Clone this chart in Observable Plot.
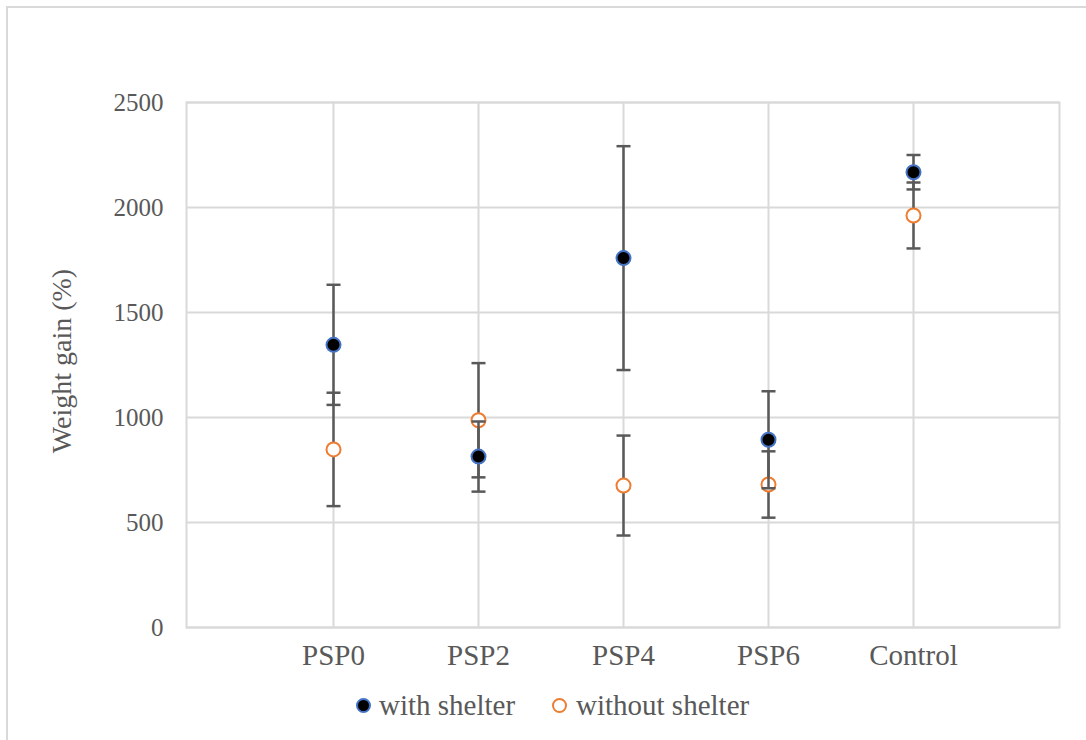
<!DOCTYPE html>
<html>
<head>
<meta charset="utf-8">
<script src="https://cdn.jsdelivr.net/npm/d3@7"></script>
<script src="https://cdn.jsdelivr.net/npm/@observablehq/plot@0.6"></script>
<style>
  body { margin: 0; background: #fff; }
  #wrap {
    position: relative; width: 1086px; height: 740px; overflow: hidden;
    font-family: "Liberation Serif", "Times New Roman", serif; color: #595959;
  }
  #border {
    position: absolute; left: 6px; top: 6px; width: 1300px; height: 1000px;
    border-top: 2px solid #d9d9d9; border-left: 2px solid #d9d9d9;
  }
  #chart { position: absolute; left: 0; top: 0; }
  .legend-item { position: absolute; top: 688px; font-size: 29px; line-height: 34px; white-space: nowrap; }
  .swatch { position: absolute; width: 11px; height: 11px; border-radius: 50%; box-sizing: content-box; }
</style>
</head>
<body>
<div id="wrap">
  <div id="border"></div>
  <div id="chart"></div>
  <div id="legend"></div>
</div>
<script>
// Weight gain by treatment, with and without shelter (mean ± SD)
const treatments = ["PSP0", "PSP2", "PSP4", "PSP6", "Control"];
const withShelter = [1346, 814, 1759, 894, 2168];
const withShelterSD = [286, 167, 533, 231, 82];
const withoutShelter = [848, 987, 676, 681, 1962];
const withoutShelterSD = [270, 272, 238, 158, 157];
const yTicks = [0, 500, 1000, 1500, 2000, 2500];
const seriesNames = ["with shelter", "without shelter"];
const yTitle = "Weight gain (%)";

const colors = { withFill: "#000000", withStroke: "#4472C4", withoutStroke: "#ED7D31", bar: "#595959", grid: "#d9d9d9" };

const rowsWith = treatments.map((t, i) => ({ t, v: withShelter[i], e: withShelterSD[i] }));
const rowsWithout = treatments.map((t, i) => ({ t, v: withoutShelter[i], e: withoutShelterSD[i] }));

// horizontal dash used as the error-bar cap; half-width equals the dot radius
const capSymbol = {
  draw(context, size) {
    const w = Math.sqrt(size / Math.PI);
    context.moveTo(-w, 0);
    context.lineTo(w, 0);
  }
};

// error bar: vertical whisker plus two caps
function errorBars(rows) {
  return [
    Plot.ruleX(rows, { x: "t", y1: d => d.v - d.e, y2: d => d.v + d.e, stroke: colors.bar, strokeWidth: 2.5 }),
    Plot.dot(rows, { x: "t", y: d => d.v + d.e, symbol: capSymbol, r: 7, fill: "none", stroke: colors.bar, strokeWidth: 2.5 }),
    Plot.dot(rows, { x: "t", y: d => d.v - d.e, symbol: capSymbol, r: 7, fill: "none", stroke: colors.bar, strokeWidth: 2.5 })
  ];
}

const chart = Plot.plot({
  width: 1086,
  height: 680,
  marginLeft: 186,
  marginRight: 27,
  marginTop: 102,
  marginBottom: 53,
  style: { fontFamily: "'Liberation Serif', 'Times New Roman', serif", color: "#595959", background: "transparent", overflow: "visible" },
  x: { type: "point", domain: treatments, padding: 1 },
  y: { domain: [0, 2500] },
  marks: [
    Plot.ruleY(yTicks, { y: d => d, stroke: colors.grid, strokeWidth: 2 }),
    Plot.ruleX(treatments, { x: d => d, stroke: colors.grid, strokeWidth: 2 }),
    Plot.frame({ stroke: colors.grid, strokeWidth: 2 }),
    Plot.axisY({ ticks: yTicks, tickFormat: "d", tickSize: 0, tickPadding: 23, fontSize: 25, label: null }),
    Plot.axisX({ tickSize: 0, tickPadding: 17, fontSize: 29, label: null }),
    Plot.text([yTitle], { text: d => d, frameAnchor: "left", textAnchor: "middle", rotate: -90, dx: -124, dy: -4, fontSize: 28, fill: "#595959" }),
    ...errorBars(rowsWithout),
    Plot.dot(rowsWithout, { x: "t", y: "v", r: 7, fill: "white", stroke: colors.withoutStroke, strokeWidth: 2 }),
    ...errorBars(rowsWith),
    Plot.dot(rowsWith, { x: "t", y: "v", r: 7, fill: colors.withFill, stroke: colors.withStroke, strokeWidth: 2 })
  ]
});
document.getElementById("chart").appendChild(chart);

// legend below the plot
const legend = document.getElementById("legend");
const legendItems = [
  { name: seriesNames[0], left: 356, textLeft: 379, fill: colors.withFill, stroke: colors.withStroke },
  { name: seriesNames[1], left: 552, textLeft: 576, fill: "#fff", stroke: colors.withoutStroke }
];
for (const it of legendItems) {
  const sw = document.createElement("span");
  sw.className = "swatch";
  sw.style.left = it.left + "px";
  sw.style.top = "698px";
  sw.style.background = it.fill;
  sw.style.border = `2px solid ${it.stroke}`;
  legend.appendChild(sw);
  const tx = document.createElement("span");
  tx.className = "legend-item";
  tx.style.left = it.textLeft + "px";
  tx.textContent = it.name;
  legend.appendChild(tx);
}
</script>
</body>
</html>
